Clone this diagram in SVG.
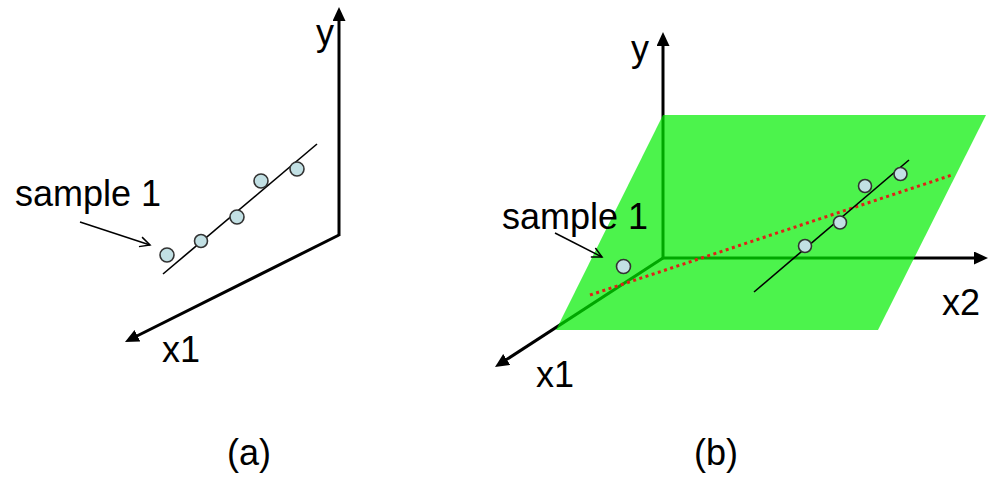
<svg xmlns="http://www.w3.org/2000/svg" width="990" height="477" viewBox="0 0 990 477">
  <defs>
    <marker id="axhead" markerUnits="userSpaceOnUse" markerWidth="16" markerHeight="14" refX="4" refY="6.5" orient="auto">
      <path d="M0,0 L14,6.5 L0,13 z" fill="#000"/>
    </marker>
    <marker id="openhead" markerUnits="userSpaceOnUse" markerWidth="14" markerHeight="14" refX="11" refY="6" orient="auto">
      <path d="M1,1 L11,6 L1,11" fill="none" stroke="#000" stroke-width="1.5"/>
    </marker>
  </defs>
  <style>
    .axis { stroke: #000; stroke-width: 3; fill: none; marker-end: url(#axhead); }
    .fit { stroke: #000; stroke-width: 1.6; fill: none; }
    .pt { fill: #c2e0e4; stroke: #333; stroke-width: 1.6; }
    .lbl { font-family: "Liberation Sans", Arial, sans-serif; font-size: 36px; fill: #000; }
    .ptr { stroke: #000; stroke-width: 1.5; fill: none; marker-end: url(#openhead); }
  </style>
  <rect width="990" height="477" fill="#fff"/>

  <!-- Panel (a) -->
  <g id="panel-a">
    <g id="axes-a">
      <line class="axis" x1="339" y1="236" x2="339" y2="17"/>
      <polyline points="339,235 133.9,337.5" class="axis"/>
    </g>
    <line class="fit" x1="163" y1="274" x2="317" y2="144"/>
    <circle class="pt" cx="167" cy="255" r="7"/>
    <circle class="pt" cx="201" cy="241" r="6.5"/>
    <circle class="pt" cx="237" cy="217" r="7"/>
    <circle class="pt" cx="261" cy="181" r="7"/>
    <circle class="pt" cx="297" cy="169" r="7"/>
    <line class="ptr" x1="80" y1="222" x2="150" y2="245"/>
    <text class="lbl" x="15" y="206">sample 1</text>
    <text class="lbl" x="316" y="45" font-size="34">y</text>
    <text class="lbl" x="162" y="362" font-size="34">x1</text>
    <text class="lbl" x="249" y="465" text-anchor="middle">(a)</text>
  </g>

  <!-- Panel (b) -->
  <g id="panel-b">
    <g id="axes-b">
      <line class="axis" x1="663" y1="259" x2="663" y2="42"/>
      <line class="axis" x1="662" y1="258" x2="978" y2="258"/>
      <line class="axis" x1="663" y1="258" x2="503.4" y2="361.6"/>
    </g>
    <polygon id="plane" points="663,115 986,115 878,330 556,330" fill="#00ee00" fill-opacity="0.7"/>
    <line x1="590" y1="295" x2="952" y2="175" stroke="#e02018" stroke-width="3" stroke-dasharray="3 3.5"/>
    <line class="fit" x1="754" y1="292" x2="909" y2="160"/>
    <circle class="pt" cx="623.5" cy="266.5" r="7"/>
    <circle class="pt" cx="805" cy="246" r="6.5"/>
    <circle class="pt" cx="840" cy="222.5" r="6.5"/>
    <circle class="pt" cx="865" cy="186" r="6.5"/>
    <circle class="pt" cx="900.5" cy="174" r="6.5"/>
    <line class="ptr" x1="555" y1="233" x2="602" y2="257"/>
    <text class="lbl" x="502" y="229">sample 1</text>
    <text class="lbl" x="631" y="61" font-size="34">y</text>
    <text class="lbl" x="942" y="315">x2</text>
    <text class="lbl" x="536" y="387" font-size="34">x1</text>
    <text class="lbl" x="716" y="465" text-anchor="middle">(b)</text>
  </g>
</svg>
